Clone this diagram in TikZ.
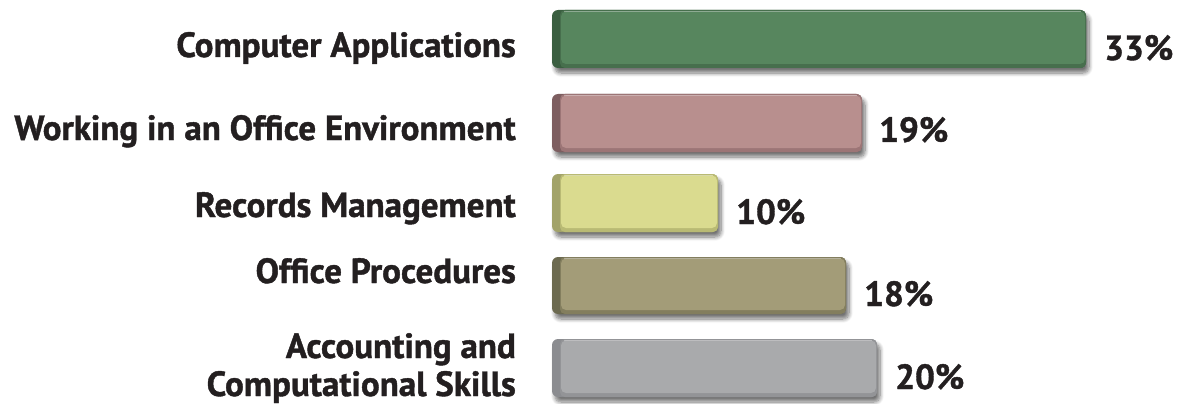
\documentclass[tikz,border=0pt]{standalone}
\usepackage{fontspec}
\setmainfont{PT Sans}[BoldFeatures={FakeBold=1.2}]
\usetikzlibrary{shadows.blur}
\definecolor{txt}{HTML}{231F20}
\definecolor{gA}{HTML}{57865E}\definecolor{gAd}{HTML}{3A5E40}\definecolor{gAb}{HTML}{476F4D}
\definecolor{rA}{HTML}{B88F8E}\definecolor{rAd}{HTML}{7D5E60}\definecolor{rAb}{HTML}{9C7576}
\definecolor{yA}{HTML}{DADB8F}\definecolor{yAd}{HTML}{A2A36A}\definecolor{yAb}{HTML}{B9BA74}
\definecolor{oA}{HTML}{A39C78}\definecolor{oAd}{HTML}{6C6A50}\definecolor{oAb}{HTML}{837E5E}
\definecolor{sA}{HTML}{A9AAAC}\definecolor{sAd}{HTML}{8B8C90}\definecolor{sAb}{HTML}{939497}
\tikzset{
  lbl/.style={font=\bfseries\fontsize{35}{38}\selectfont, text=txt, inner sep=0pt},
  pct/.style={font=\bfseries\fontsize{35}{38}\selectfont, text=txt, inner sep=0pt, anchor=base west},
  barbase/.style={rounded corners=6pt, blur shadow={shadow xshift=3pt, shadow yshift=-5pt, shadow blur steps=8, shadow blur radius=4pt, shadow opacity=55}},
}
\begin{document}
\begin{tikzpicture}[x=1pt,y=-1pt]
\useasboundingbox (0,0) rectangle (1179,404);
\foreach \t/\b/\r/\fc/\dc/\bc/\n in {10/68/1086/gA/gAd/gAb/a, 94/152/862/rA/rAd/rAb/b, 174/232/718/yA/yAd/yAb/c, 257/314/846/oA/oAd/oAb/d, 339/397/877/sA/sAd/sAb/e}{
  \fill[barbase, fill=\dc] (552,\t) rectangle (\r,\b);
  \fill[\bc, rounded corners=5pt] (560,\t) rectangle (\r,\b);
  \fill[\fc, rounded corners=5pt] (561,\t+1.5) rectangle (\r-1,\b-4);
  \draw[white, opacity=0.35, line width=0.6pt] (564,\t+1) -- (\r-5,\t+1);
}
\node[lbl, anchor=base east] (l1) at (516,57) {Computer Applications};
\node[lbl, anchor=base east] (l2) at (516,140) {Working in an Office Environment};
\node[lbl, anchor=base east] (l3) at (516,217) {Records Management};
\node[lbl, anchor=base east] (l4) at (516,283) {Office Procedures};
\node[lbl, anchor=base east] (l5) at (516,358) {Accounting and};
\node[lbl, anchor=base east] (l6) at (516,396) {Computational Skills};
\node[pct] (p1) at (1104,60) {33\%};
\node[pct] (p2) at (879,142) {19\%};
\node[pct] (p3) at (736,224) {10\%};
\node[pct] (p4) at (864,306) {18\%};
\node[pct] (p5) at (895,389) {20\%};
\end{tikzpicture}
\end{document}
